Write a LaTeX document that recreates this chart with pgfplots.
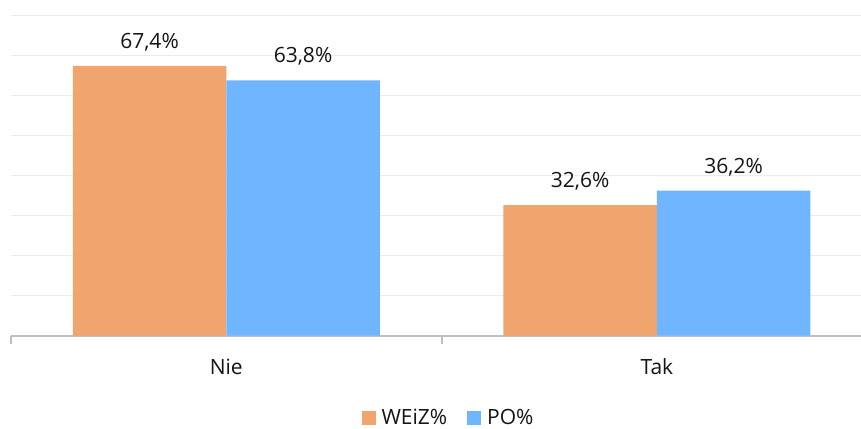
\documentclass[border=0pt]{standalone}
\usepackage{fontspec}
\setmainfont{Open Sans}
\usepackage{pgfplots}
\pgfplotsset{compat=1.18}
\definecolor{cOrange}{RGB}{240,165,110}
\definecolor{cBlue}{RGB}{112,181,255}
\definecolor{cGrid}{RGB}{236,236,236}
\definecolor{cAxis}{RGB}{191,191,191}
\definecolor{cText}{RGB}{20,20,20}
\begin{document}
\fontsize{21}{25}\selectfont
\begin{tikzpicture}
\begin{axis}[
  at={(0pt,0pt)}, anchor=south west,
  scale only axis, width=850pt, height=320pt,
  xmin=-0.5, xmax=1.474, ymin=0, ymax=80,
  ybar=0pt, bar width=153.5pt,
  axis x line=bottom, axis y line=left,
  x axis line style={-, draw=cAxis, line width=2pt},
  y axis line style={draw=none},
  xtick={0,1}, xticklabels={Nie,Tak},
  minor xtick={-0.5,0.5},
  major x tick style={draw=none},
  minor x tick style={draw=cAxis, line width=2pt},
  ytick style={draw=none},
  tick align=outside, minor tick length=8pt, major tick length=0pt,
  xticklabel style={anchor=base, yshift=-38.5pt, font=\fontsize{21}{25}\selectfont, text=cText, inner sep=0pt},
  ytick={10,20,...,80}, yticklabels={},
  ymajorgrids, y grid style={draw=cGrid, line width=1.5pt},
  /pgf/number format/assume math mode=true,
  nodes near coords={\pgfmathprintnumber[fixed,fixed zerofill,precision=1,use comma]{\pgfplotspointmeta}\%},
  every node near coord/.append style={anchor=base, yshift=17.7pt, inner sep=0pt, font=\fontsize{21}{25}\selectfont, text=cText},
  legend columns=-1,
  legend style={draw=none, fill=none, at={(0.4086,-0.2955)}, anchor=south west,
    nodes={inner sep=0pt, anchor=base west, font=\fontsize{21}{25}\selectfont, text=cText},
    column sep=6pt, /tikz/every even column/.append style={column sep=20pt}},
  legend image code/.code={\fill[#1] (0pt,0pt) rectangle (14pt,14pt);},
]
\addplot[fill=cOrange, draw=none] coordinates {(0,67.4) (1,32.6)};
\addplot[fill=cBlue, draw=none] coordinates {(0,63.8) (1,36.2)};
\legend{WEiZ\%, PO\%}
\end{axis}
\pgfresetboundingbox
\path (-11pt,-92.5pt) rectangle (850pt,335.5pt);
\end{tikzpicture}
\end{document}
